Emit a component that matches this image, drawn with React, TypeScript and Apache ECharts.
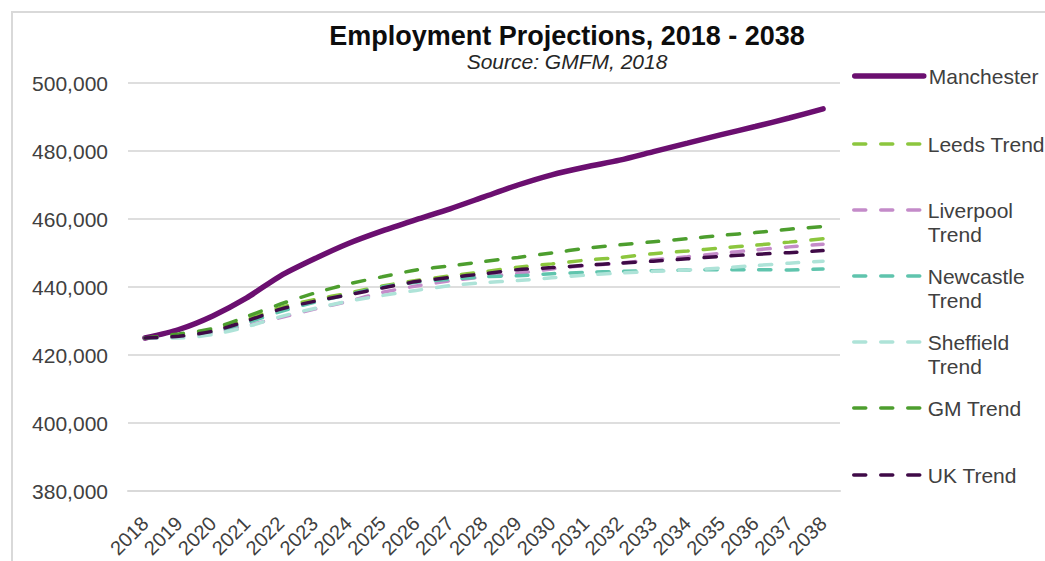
import React, { useEffect, useRef } from "react";
import * as echarts from "echarts";

const years = ["2018","2019","2020","2021","2022","2023","2024","2025","2026","2027","2028","2029","2030","2031","2032","2033","2034","2035","2036","2037","2038"];

const manchester = [425000, 427500, 431500, 436800, 443300, 448300, 452800, 456500, 459800, 463000, 466500, 470000, 473000, 475300, 477300, 479800, 482300, 484800, 487200, 489700, 492400];
const leedsTrend = [425000, 425700, 427300, 430400, 434000, 436300, 438200, 440300, 441900, 443300, 444500, 445800, 446800, 447900, 448700, 449800, 450600, 451500, 452300, 453200, 454200];
const liverpoolTrend = [425000, 425300, 426600, 428700, 431000, 433500, 435800, 438400, 440300, 441800, 443000, 444000, 445300, 446300, 447000, 448000, 448900, 449900, 450900, 451800, 452600];
const newcastleTrend = [425000, 425400, 426800, 429500, 432800, 435500, 437800, 440000, 441400, 442300, 443000, 443300, 443900, 444300, 444600, 444800, 445000, 445100, 445100, 445000, 445300];
const sheffieldTrend = [425000, 425000, 426000, 428300, 431300, 433700, 435800, 437500, 439000, 440400, 441300, 441900, 442700, 443500, 444100, 444600, 445000, 445600, 446300, 447000, 447600];
const gmTrend = [425000, 426200, 427800, 431300, 435000, 438200, 440900, 443000, 445000, 446200, 447500, 448700, 450000, 451400, 452400, 453300, 454200, 455200, 456000, 457000, 457800];
const ukTrend = [425000, 425500, 427000, 430000, 433500, 435800, 437700, 439700, 441600, 442800, 443900, 445100, 445700, 446400, 447000, 447600, 448300, 449000, 449600, 450100, 450700];

const yTicks = { min: 380000, max: 500000, interval: 20000 };

const titleText = "Employment Projections, 2018 - 2038";
const subtitleText = "Source: GMFM, 2018";

const FONT = "'Liberation Sans', Arial, sans-serif";
const TEXT_COLOR = "#404040";

const seriesDefs = [
  { name: "Manchester", data: manchester, color: "#6b0f70", dashed: false, cy: 76, twoLine: false },
  { name: "Leeds Trend", data: leedsTrend, color: "#8cc63e", dashed: true, cy: 144, twoLine: false },
  { name: "Liverpool Trend", data: liverpoolTrend, color: "#c48bc9", dashed: true, cy: 210, twoLine: true },
  { name: "Newcastle Trend", data: newcastleTrend, color: "#5fc4ad", dashed: true, cy: 276, twoLine: true },
  { name: "Sheffield Trend", data: sheffieldTrend, color: "#aee3d8", dashed: true, cy: 342, twoLine: true },
  { name: "GM Trend", data: gmTrend, color: "#4d9e2e", dashed: true, cy: 408, twoLine: false },
  { name: "UK Trend", data: ukTrend, color: "#3f0a47", dashed: true, cy: 475, twoLine: false },
];

function addCommas(v: number): string {
  return String(v).replace(/\B(?=(\d{3})+(?!\d))/g, ",");
}

const DASH = [12, 15];

export default function App() {
  const ref = useRef<HTMLDivElement>(null);
  useEffect(() => {
    if (!ref.current) return;
    const chart = echarts.init(ref.current, null, { renderer: "svg" });
    const legends = seriesDefs.map((s) => ({
      data: [s.name],
      orient: "vertical",
      left: 852,
      top: s.twoLine ? s.cy - 36 : s.cy - 12,
      itemWidth: 69,
      itemHeight: 14,
      padding: 0,
      itemGap: 0,
      selectedMode: false,
      itemStyle: { opacity: 0 },
      lineStyle: {
        width: s.dashed ? 3.5 : 5.5,
        type: s.dashed ? DASH : "solid",
        cap: "round",
      },
      formatter: (n: string) => (s.twoLine ? "\u00a0\n" + n.replace(" ", "\n") : n),
      textStyle: {
        fontSize: 21,
        lineHeight: 24,
        color: TEXT_COLOR,
        fontFamily: FONT,
      },
    }));
    chart.setOption({
      animation: false,
      backgroundColor: "#ffffff",
      graphic: [
        {
          type: "rect",
          shape: { x: 12, y: 12, width: 1100, height: 620 },
          style: { fill: "none", stroke: "#d9d9d9", lineWidth: 2 },
          silent: true,
        },
        {
          type: "text",
          x: 567,
          y: 36,
          style: {
            text: titleText,
            align: "center",
            verticalAlign: "middle",
            font: `bold 27px ${FONT}`,
            fill: "#0d0d0d",
          },
        },
        {
          type: "text",
          x: 567,
          y: 61,
          style: {
            text: subtitleText,
            align: "center",
            verticalAlign: "middle",
            font: `italic 21px ${FONT}`,
            fill: "#262626",
          },
        },
      ],
      legend: legends,
      grid: { left: 128, right: 205, top: 83, bottom: 70, containLabel: false, outerBoundsMode: "none" },
      xAxis: {
        type: "category",
        data: years,
        boundaryGap: true,
        axisLine: { show: true, lineStyle: { color: "#d9d9d9", width: 2 } },
        axisTick: { show: false },
        axisLabel: {
          interval: 0,
          rotate: 45,
          margin: 29,
          fontSize: 20,
          color: TEXT_COLOR,
          fontFamily: FONT,
        },
      },
      yAxis: {
        type: "value",
        min: yTicks.min,
        max: yTicks.max,
        interval: yTicks.interval,
        axisLine: { show: false },
        axisTick: { show: false },
        splitLine: { lineStyle: { color: "#dedede", width: 2 } },
        axisLabel: {
          margin: 20,
          fontSize: 21,
          color: TEXT_COLOR,
          fontFamily: FONT,
          formatter: (v: number) => addCommas(v),
        },
      },
      series: seriesDefs.map((s) => ({
        name: s.name,
        type: "line",
        data: s.data,
        symbol: "none",
        smooth: 0.25,
        color: s.color,
        lineStyle: {
          color: s.color,
          width: s.dashed ? 3.5 : 5.5,
          type: s.dashed ? DASH : "solid",
          cap: "round",
        },
      })),
    });
    return () => chart.dispose();
  }, []);
  return (
    <div
      ref={ref}
      style={{ position: "absolute", left: 0, top: 0, width: 1045, height: 561 }}
    />
  );
}
